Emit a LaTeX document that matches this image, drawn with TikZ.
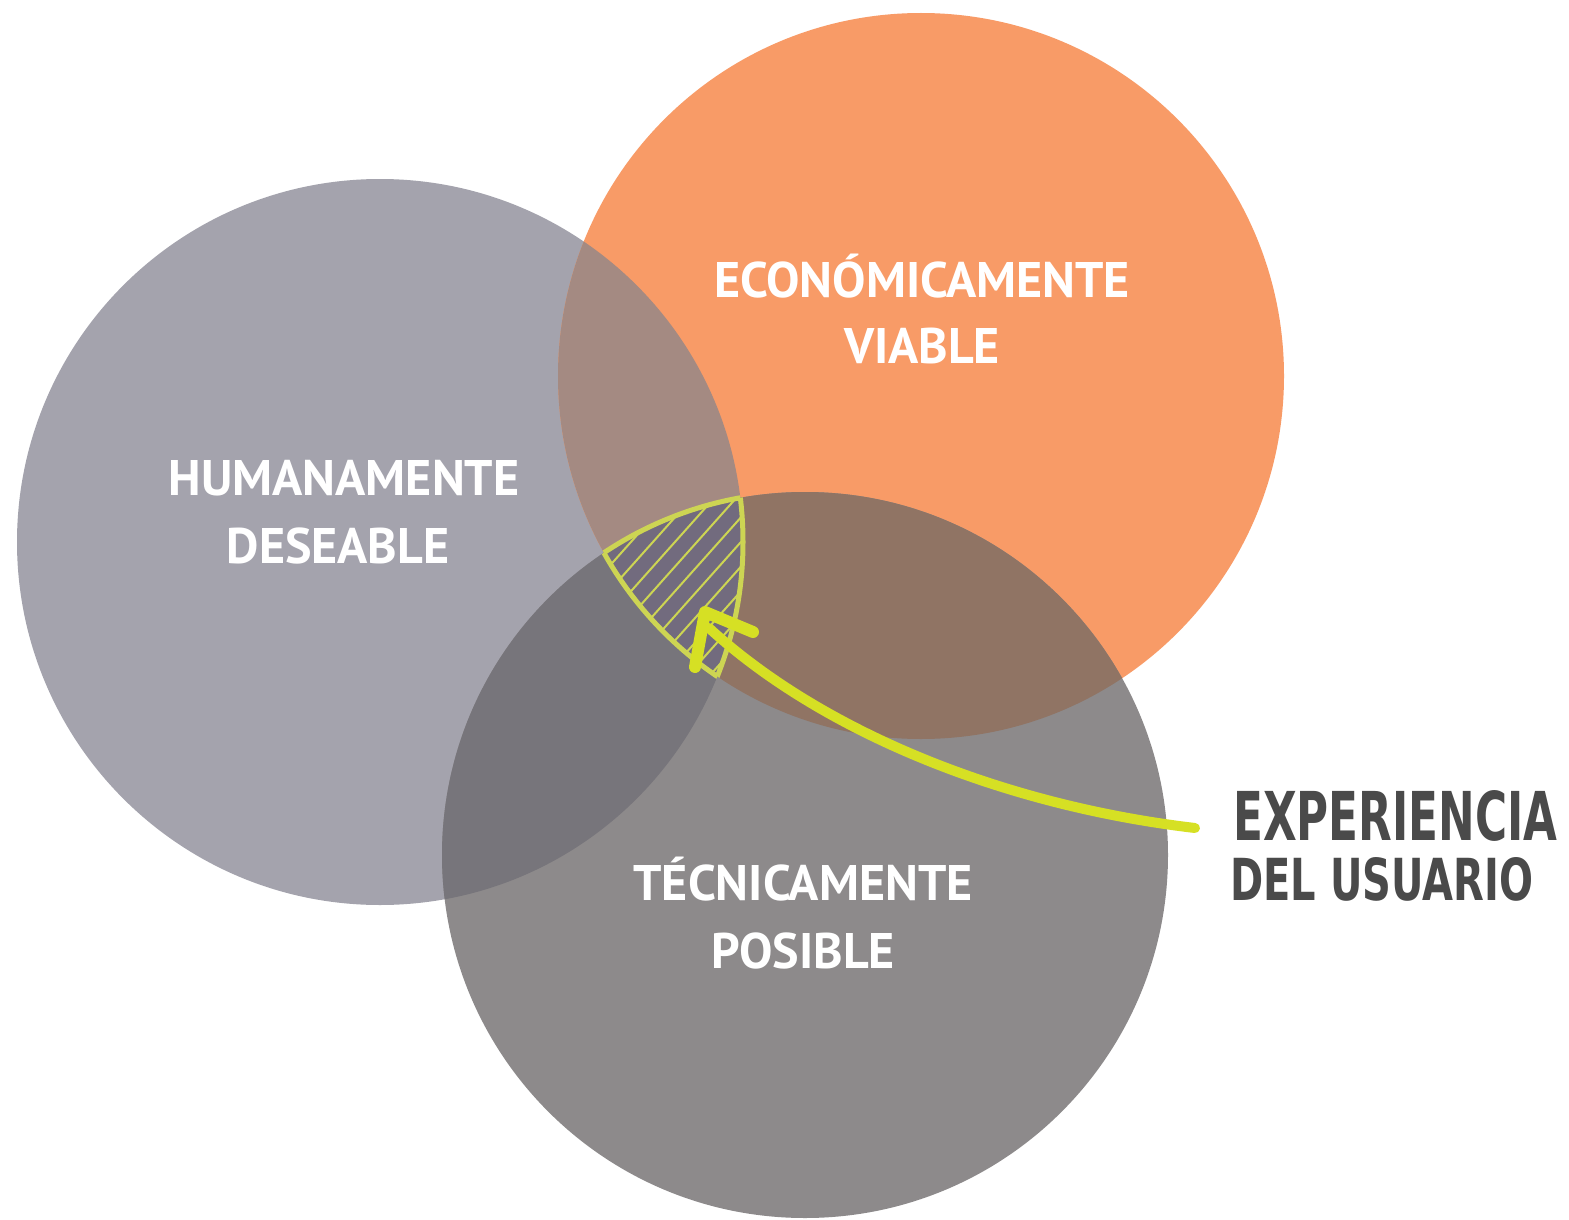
\documentclass[tikz,border=0pt]{standalone}
\usepackage{fontspec}
\setmainfont{PT Sans}
\newfontfamily\handfont{DejaVu Sans}
\definecolor{cL}{HTML}{A4A3AD}
\definecolor{cO}{HTML}{F89B67}
\definecolor{cB}{HTML}{8D8A8B}
\definecolor{cLO}{HTML}{A48A82}
\definecolor{cOB}{HTML}{907464}
\definecolor{cLB}{HTML}{77757B}
\definecolor{cT}{HTML}{726B7E}
\definecolor{hatchc}{HTML}{CDD553}
\definecolor{arrowc}{HTML}{D6E024}
\definecolor{handc}{HTML}{4A4A4A}
\begin{document}
\begin{tikzpicture}[x=1pt,y=-1pt,
  lab/.style={text=white,font=\bfseries\fontsize{50}{60}\selectfont,inner sep=0pt,anchor=base},
  hand/.style={text=handc,inner sep=0pt,anchor=base west},
  hatchline/.style={draw=hatchc,line width=2pt},
  outl/.style={draw=hatchc,line width=5pt},
  arr/.style={draw=arrowc,line width=10pt,line cap=round,line join=round}]
\useasboundingbox (0,0) rectangle (1569,1220);
\fill[white] (0,0) rectangle (1569,1220);
\coordinate (L) at (380,542);
\coordinate (O) at (921,376);
\coordinate (B) at (805,855);
\def\R{363}
% base circles
\fill[cL] (L) circle (\R);
\fill[cO] (O) circle (\R);
\fill[cB] (B) circle (\R);
% pairwise overlaps
\begin{scope}\clip (L) circle (\R); \fill[cLO] (O) circle (\R);\end{scope}
\begin{scope}\clip (L) circle (\R); \fill[cLB] (B) circle (\R);\end{scope}
\begin{scope}\clip (O) circle (\R); \fill[cOB] (B) circle (\R);\end{scope}
% triple overlap with hatching
\begin{scope}
  \clip (L) circle (\R); \clip (O) circle (\R); \clip (B) circle (\R);
  \fill[cT] (500,450) rectangle (800,720);
  \foreach \k in {-6,...,7} \draw[hatchline] (560+\k*22,720) -- ++(250,-280);
\end{scope}
\begin{scope}\clip (L) circle (\R); \clip (O) circle (\R); \draw[outl] (B) circle (\R);\end{scope}
\begin{scope}\clip (L) circle (\R); \clip (B) circle (\R); \draw[outl] (O) circle (\R);\end{scope}
\begin{scope}\clip (O) circle (\R); \clip (B) circle (\R); \draw[outl] (L) circle (\R);\end{scope}
% labels
\node[lab] (h1) at (344,495) {HUMANAMENTE};
\node[lab] (h2) at (338,563) {DESEABLE};
\node[lab] (e1) at (922,297) {ECONÓMICAMENTE};
\node[lab] (e2) at (922,363) {VIABLE};
\node[lab] (t1) at (803,900) {TÉCNICAMENTE};
\node[lab] (t2) at (803,968) {POSIBLE};
% user experience label
\node[hand] (u1) at (1233,840) {\resizebox{324pt}{50pt}{\handfont\bfseries EXPERIENCIA}};
\node[hand] (u2) at (1230,900) {\resizebox{303pt}{43pt}{\handfont\bfseries DEL USUARIO}};
% arrow
\coordinate (tail) at (1195,828);
\coordinate (tip) at (705,612);
\coordinate (hr) at (753,632);
\coordinate (hd) at (695,667);
\draw[arr] (tail) .. controls (1000,805) and (820,730) .. (709,628);
\draw[arr,line width=12pt] (hr) -- (tip) -- (hd);
\end{tikzpicture}
\end{document}
